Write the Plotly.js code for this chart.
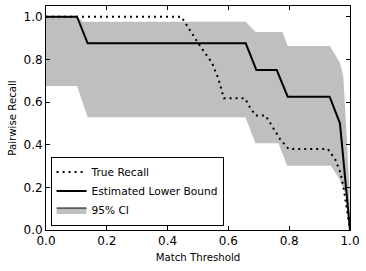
<!DOCTYPE html>
<html>
<head>
<meta charset="utf-8">
<script src="https://cdn.plot.ly/plotly-3.0.1.min.js"></script>
<style>
  html, body { margin: 0; padding: 0; background: #ffffff; }
  #chart { width: 366px; height: 271px; }
</style>
</head>
<body>
<div id="chart"></div>
<script>
// True recall (dotted)
const thrTrue = [0, 0.445, 0.507, 0.546, 0.568, 0.585, 0.655, 0.667, 0.689, 0.722, 0.738, 0.771, 0.798, 0.927, 0.952, 0.969, 0.98, 0.991, 1.0];
const trueRecall = [1, 1, 0.862, 0.784, 0.705, 0.617, 0.617, 0.583, 0.537, 0.537, 0.50, 0.424, 0.38, 0.38, 0.329, 0.267, 0.188, 0.094, 0];

// Estimated lower bound (solid)
const thrLB = [0, 0.102, 0.137, 0.657, 0.692, 0.759, 0.795, 0.933, 0.967, 1.0];
const lowerBound = [1, 1, 0.875, 0.875, 0.75, 0.75, 0.625, 0.625, 0.5, 0];

// 95% CI band
const thrCIUp = [0, 0.102, 0.122, 0.657, 0.69, 0.778, 0.795, 0.934, 0.967, 0.978, 0.99, 0.998, 1.0];
const ciUpper = [1, 1, 0.976, 0.976, 0.928, 0.928, 0.862, 0.862, 0.784, 0.72, 0.42, 0.19, 0];
const thrCILow = [0, 0.102, 0.137, 0.656, 0.689, 0.765, 0.793, 0.937, 0.965, 0.985, 1.0];
const ciLower = [0.675, 0.675, 0.528, 0.528, 0.407, 0.407, 0.301, 0.301, 0.24, 0.17, 0];

const xTicks = [0, 0.2, 0.4, 0.6, 0.8, 1.0];
const yTicks = [0, 0.2, 0.4, 0.6, 0.8, 1.0];
const tickText = ['0.0', '0.2', '0.4', '0.6', '0.8', '1.0'];

const bandX = thrCIUp.concat(thrCILow.slice().reverse());
const bandY = ciUpper.concat(ciLower.slice().reverse());

const FONT = 'DejaVu Sans, Liberation Sans, sans-serif';

const data = [
  {
    x: bandX, y: bandY, type: 'scatter', mode: 'lines',
    fill: 'toself', fillcolor: '#bfbfbf',
    line: { width: 0, color: '#bfbfbf' },
    name: '95% CI', showlegend: false, hoverinfo: 'skip'
  },
  {
    x: thrTrue, y: trueRecall, type: 'scatter', mode: 'lines',
    line: { color: '#000000', width: 2, dash: '2px,4px' },
    name: 'True Recall', legendrank: 1
  },
  {
    x: thrLB, y: lowerBound, type: 'scatter', mode: 'lines',
    line: { color: '#000000', width: 2 },
    name: 'Estimated Lower Bound', legendrank: 2
  },
  {
    // legend entry for the CI band (gray patch with black edge)
    x: [null], y: [null], type: 'scatter', mode: 'lines',
    fill: 'toself', fillcolor: '#bfbfbf',
    line: { width: 1, color: '#000000' },
    name: '95% CI', legendrank: 3, hoverinfo: 'skip'
  }
];

const axisCommon = {
  showline: true, linecolor: '#000000', linewidth: 1, mirror: 'allticks',
  ticks: 'inside', ticklen: 4, tickwidth: 1, tickcolor: '#000000',
  showgrid: false, zeroline: false,
  tickfont: { family: FONT, size: 12, color: '#000000' },
  fixedrange: true
};

const layout = {
  width: 366, height: 271,
  margin: { l: 46, r: 16, t: 6, b: 41 },
  paper_bgcolor: '#ffffff', plot_bgcolor: '#ffffff',
  font: { family: FONT, color: '#000000' },
  showlegend: true,
  legend: {
    x: 0.015, y: 0.02, xanchor: 'left', yanchor: 'bottom',
    bgcolor: '#ffffff', bordercolor: '#000000', borderwidth: 1,
    font: { family: FONT, size: 10.6, color: '#000000' },
    tracegroupgap: 0
  },
  xaxis: Object.assign({}, axisCommon, {
    range: [0, 1], tickvals: xTicks, ticktext: tickText,
    title: { text: 'Match Threshold', font: { family: FONT, size: 10.2, color: '#000000' }, standoff: 6 }
  }),
  yaxis: Object.assign({}, axisCommon, {
    range: [0, 1.05], tickvals: yTicks, ticktext: tickText,
    title: { text: 'Pairwise Recall', font: { family: FONT, size: 10.2, color: '#000000' }, standoff: 4 }
  })
};

Plotly.newPlot('chart', data, layout, { displayModeBar: false, staticPlot: true });
</script>
</body>
</html>
